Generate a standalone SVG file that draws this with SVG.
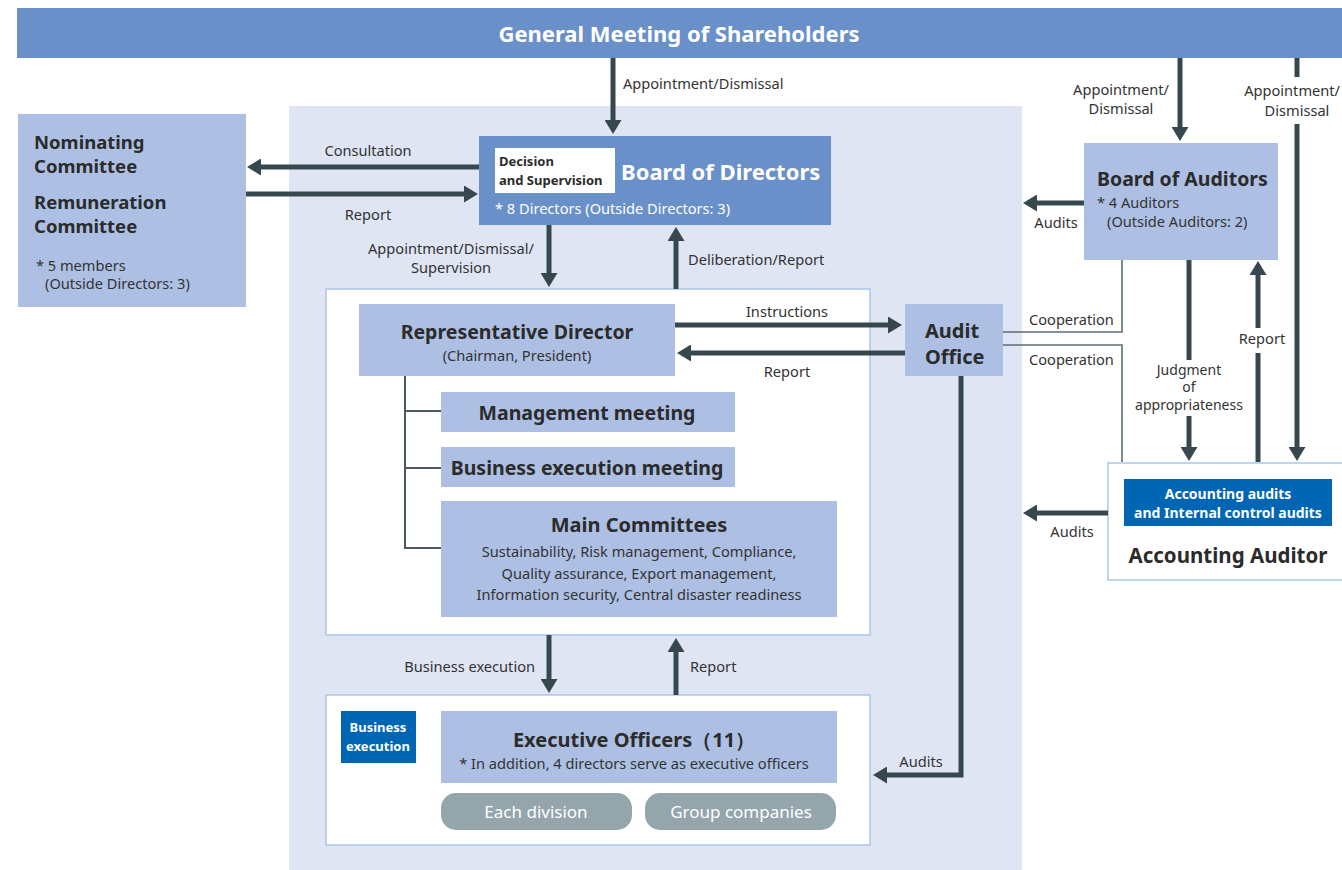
<svg xmlns="http://www.w3.org/2000/svg" width="1342" height="870" viewBox="0 0 1342 870">
<defs>
<marker id="ah" viewBox="0 0 14 17" refX="1" refY="8.5" markerWidth="14" markerHeight="17" markerUnits="userSpaceOnUse" orient="auto">
<path d="M0,0 L14,8.5 L0,17 Z" fill="#36484e"/>
</marker>
<style>
text{font-family:"Noto Sans","Open Sans","Liberation Sans",sans-serif;fill:#2b2b2b}
.lbl{font-size:14.6px;fill:#333}
.sm{font-size:14px;fill:#333}
.b{font-weight:bold}
.w{fill:#fff}
.mid{fill:#adc0e4}
.dark{fill:#6a90ca}
.tag{fill:#0066b3}
.arr{stroke:#36484e;stroke-width:5;fill:none}
.thin{stroke:#5c6f76;stroke-width:1.6;fill:none}
.c{text-anchor:middle}
</style>
</defs>
<rect width="1342" height="870" fill="#fff"/>
<g id="panel"><rect x="289" y="106" width="733" height="764" fill="#dfe5f3"/></g>
<g id="shareholders">
<rect x="17" y="8" width="1325" height="50" class="dark"/>
<text x="679" y="42" class="c b w" font-size="22">General Meeting of Shareholders</text>
</g>
<g id="nominating">
<rect x="18" y="114" width="228" height="193" class="mid"/>
<text x="34" y="149" class="b" font-size="18.5">Nominating</text>
<text x="34" y="173" class="b" font-size="18.5">Committee</text>
<text x="34" y="209" class="b" font-size="18.5">Remuneration</text>
<text x="34" y="233" class="b" font-size="18.5">Committee</text>
<text x="36" y="271" class="lbl">* 5 members</text>
<text x="45" y="289" class="lbl">(Outside Directors: 3)</text>
</g>
<g id="board-directors">
<rect x="479" y="136" width="352" height="89" class="dark"/>
<rect x="495" y="148" width="120" height="45" fill="#fff"/>
<text x="499" y="166" class="b" font-size="13">Decision</text>
<text x="499" y="185" class="b" font-size="13">and Supervision</text>
<text x="621" y="180" class="b w" font-size="22">Board of Directors</text>
<text x="495" y="214" class="lbl w">* 8 Directors (Outside Directors: 3)</text>
</g>
<g id="inner-box"><rect x="326" y="289" width="544" height="346" fill="#fff" stroke="#a9c6ea" stroke-width="1.5"/></g>
<g id="rep-director">
<rect x="359" y="304" width="316" height="72" class="mid"/>
<text x="517" y="339" class="c b" font-size="19.5">Representative Director</text>
<text x="517" y="361" class="c lbl">(Chairman, President)</text>
</g>
<g id="tree"><polyline points="405,376 405,548 441,548" fill="none" stroke="#4a5b60" stroke-width="2"/>
<line x1="405" y1="411" x2="441" y2="411" stroke="#4a5b60" stroke-width="2"/>
<line x1="405" y1="468" x2="441" y2="468" stroke="#4a5b60" stroke-width="2"/></g>
<g id="management">
<rect x="441" y="392" width="294" height="40" class="mid"/>
<text x="587" y="420" class="c b" font-size="19.5">Management meeting</text>
</g>
<g id="business-meeting">
<rect x="441" y="447" width="294" height="40" class="mid"/>
<text x="587" y="475" class="c b" font-size="19.5">Business execution meeting</text>
</g>
<g id="main-committees">
<rect x="441" y="501" width="396" height="116" class="mid"/>
<text x="639" y="532" class="c b" font-size="20">Main Committees</text>
<text x="639" y="557" class="c lbl" font-size="15">Sustainability, Risk management, Compliance,</text>
<text x="639" y="579" class="c lbl" font-size="15">Quality assurance, Export management,</text>
<text x="639" y="600" class="c lbl" font-size="15">Information security, Central disaster readiness</text>
</g>
<g id="audit-office">
<rect x="905" y="304" width="98" height="72" class="mid"/>
<text x="925" y="338" class="b" font-size="20">Audit</text>
<text x="925" y="364" class="b" font-size="20">Office</text>
</g>
<g id="lower-box"><rect x="326" y="695" width="544" height="150" fill="#fff" stroke="#a9c6ea" stroke-width="1.5"/></g>
<g id="business-tag">
<rect x="341" y="711" width="75" height="52" class="tag"/>
<text x="378" y="732" class="c b w" font-size="13">Business</text>
<text x="378" y="751" class="c b w" font-size="13">execution</text>
</g>
<g id="executive-officers">
<rect x="441" y="711" width="396" height="72" class="mid"/>
<text x="634" y="747" class="c b" font-size="20">Executive Officers（11）</text>
<text x="634" y="769" class="c lbl">* In addition, 4 directors serve as executive officers</text>
</g>
<g id="each-division">
<rect x="441" y="793" width="191" height="37" rx="15" fill="#94a5ab"/>
<text x="536" y="818" class="c w" font-size="17">Each division</text>
</g>
<g id="group-companies">
<rect x="645" y="793" width="191" height="37" rx="15" fill="#94a5ab"/>
<text x="741" y="818" class="c w" font-size="17">Group companies</text>
</g>
<g id="board-auditors">
<rect x="1084" y="143" width="194" height="117" class="mid"/>
<text x="1097" y="186" class="b" font-size="19.5">Board of Auditors</text>
<text x="1097" y="208" class="lbl">* 4 Auditors</text>
<text x="1107" y="227" class="lbl">(Outside Auditors: 2)</text>
</g>
<g id="accounting-auditor">
<rect x="1108" y="463" width="240" height="117" fill="#fff" stroke="#a9c6ea" stroke-width="1.5"/>
<rect x="1124" y="479" width="208" height="47" class="tag"/>
<text x="1228" y="499" class="c b w" font-size="14">Accounting audits</text>
<text x="1228" y="518" class="c b w" font-size="14">and Internal control audits</text>
<text x="1228" y="563" class="c b" font-size="20.5">Accounting Auditor</text>
</g>
<g id="connectors">
<line x1="613" y1="58" x2="613" y2="121" class="arr" marker-end="url(#ah)"/>
<line x1="479" y1="167" x2="260" y2="167" class="arr" marker-end="url(#ah)"/>
<line x1="246" y1="194" x2="465" y2="194" class="arr" marker-end="url(#ah)"/>
<line x1="549" y1="225" x2="549" y2="274" class="arr" marker-end="url(#ah)"/>
<line x1="676" y1="289" x2="676" y2="240" class="arr" marker-end="url(#ah)"/>
<line x1="675" y1="325" x2="889" y2="325" class="arr" marker-end="url(#ah)"/>
<line x1="905" y1="353" x2="690" y2="353" class="arr" marker-end="url(#ah)"/>
<line x1="549" y1="635" x2="549" y2="680" class="arr" marker-end="url(#ah)"/>
<line x1="676" y1="695" x2="676" y2="651" class="arr" marker-end="url(#ah)"/>
<polyline points="961,376 961,775 886,775" class="arr" marker-end="url(#ah)"/>
<line x1="1180" y1="58" x2="1180" y2="128" class="arr" marker-end="url(#ah)"/>
<line x1="1297" y1="58" x2="1297" y2="77" class="arr"/>
<line x1="1297" y1="124" x2="1297" y2="448" class="arr" marker-end="url(#ah)"/>
<line x1="1084" y1="203" x2="1036" y2="203" class="arr" marker-end="url(#ah)"/>
<line x1="1189" y1="260" x2="1189" y2="360" class="arr"/>
<line x1="1189" y1="416" x2="1189" y2="448" class="arr" marker-end="url(#ah)"/>
<line x1="1258" y1="462" x2="1258" y2="353" class="arr"/>
<line x1="1258" y1="328" x2="1258" y2="274" class="arr" marker-end="url(#ah)"/>
<line x1="1108" y1="513" x2="1036" y2="513" class="arr" marker-end="url(#ah)"/>
<polyline points="1003,332 1122,332 1122,260" class="thin"/>
<polyline points="1003,345 1122,345 1122,462" class="thin"/>
<text x="623" y="89" class="lbl">Appointment/Dismissal</text>
<text x="368" y="156" class="c lbl">Consultation</text>
<text x="368" y="220" class="c lbl">Report</text>
<text x="451" y="254" class="c lbl">Appointment/Dismissal/</text>
<text x="451" y="273" class="c lbl">Supervision</text>
<text x="688" y="265" class="lbl">Deliberation/Report</text>
<text x="787" y="317" class="c lbl">Instructions</text>
<text x="787" y="377" class="c lbl">Report</text>
<text x="535" y="672" class="lbl" text-anchor="end">Business execution</text>
<text x="690" y="672" class="lbl">Report</text>
<text x="921" y="767" class="c lbl">Audits</text>
<text x="1121" y="95" class="c lbl">Appointment/</text>
<text x="1121" y="114" class="c lbl">Dismissal</text>
<text x="1340" y="96" class="lbl" text-anchor="end">Appointment/</text>
<text x="1297" y="116" class="c lbl">Dismissal</text>
<text x="1056" y="228" class="c lbl">Audits</text>
<text x="1029" y="325" class="lbl">Cooperation</text>
<text x="1029" y="365" class="lbl">Cooperation</text>
<text x="1189" y="375" class="c sm">Judgment</text>
<text x="1189" y="392" class="c sm">of</text>
<text x="1189" y="410" class="c sm">appropriateness</text>
<text x="1262" y="344" class="c lbl">Report</text>
<text x="1072" y="537" class="c lbl">Audits</text>
</g>
</svg>
